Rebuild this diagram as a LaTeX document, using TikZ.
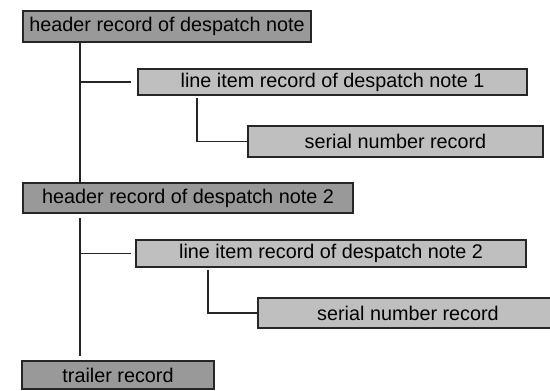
\documentclass[tikz,border=0pt]{standalone}
\usepackage{fontspec}
\setmainfont{Liberation Sans}
\usetikzlibrary{positioning}
\tikzset{
x=0.5pt, y=-0.5pt, % one unit is one pixel of the layout, y runs down
record/.style={draw=black!85, line width=0.6pt, inner sep=0pt, font=\fontsize{9.9}{12}\selectfont}, % every record box
header/.style={record, fill=black!40}, % header and trailer records
item/.style={record, fill=black!25}, % line item and serial number records
link/.style={line width=0.6pt, draw=black!85}, % the tree lines
}

\begin{document}
\begin{tikzpicture}
    \useasboundingbox (0,0) rectangle (550,390);
    \clip (0,0) rectangle (550,390);
    \node[header, minimum width=144pt, minimum height=15.5pt] (head1) at (167,26.5) {header record of despatch note};
    \node[item, minimum width=194.5pt, minimum height=13pt] (item1) at (332.5,82) {line item record of despatch note 1};
    \node[item, minimum width=147.5pt, minimum height=15.5pt] (serial1) at (395.5,141.5) {serial number record};
    \node[header, minimum width=165pt, minimum height=15pt] (head2) at (188,198) {header record of despatch note 2};
    \node[item, minimum width=195pt, minimum height=13.5pt] (item2) at (331,253.5) {line item record of despatch note 2};
    \node[item, minimum width=150pt, minimum height=15pt] (serial2) at (408,313) {serial number record};
    \node[header, minimum width=96pt, minimum height=14pt] (trailer) at (118,375) {trailer record};
    \coordinate (spine) at (80,0);
    \coordinate (fork1) at (197,0);
    \coordinate (fork2) at (208,0);
    \draw[link]
    (head1.south -| spine) -- (head2.north -| spine)
    (spine |- item1.west) -- ([xshift=-3pt]item1.west)
    ([yshift=-1pt]item1.south -| fork1) |- (serial1.west)
    ([yshift=-2pt]head2.south -| spine) -- ([yshift=2pt]trailer.north -| spine)
    (spine |- item2.west) -- ([xshift=-2pt]item2.west)
    ([yshift=-1pt]item2.south -| fork2) |- (serial2.west);
  \end{tikzpicture}
\end{document}
